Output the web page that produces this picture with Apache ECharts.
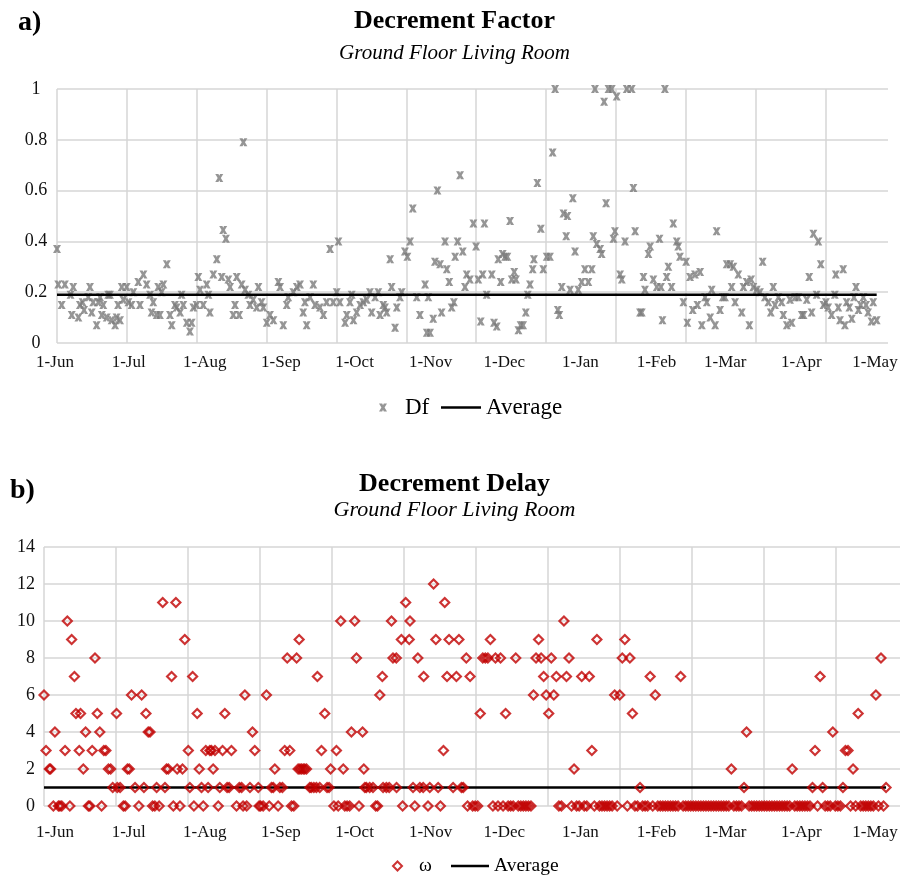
<!DOCTYPE html>
<html>
<head>
<meta charset="utf-8">
<title>Decrement Factor and Decrement Delay</title>
<script src="https://cdn.jsdelivr.net/npm/echarts@6/dist/echarts.min.js"></script>
<style>
  html, body { margin: 0; padding: 0; background: #fff; }
  #chart { width: 909px; height: 876px; }
</style>
</head>
<body>
<div id="chart"></div>
<script>
// Month labels and their day offsets from 1 June
const months = ['1-Jun','1-Jul','1-Aug','1-Sep','1-Oct','1-Nov','1-Dec','1-Jan','1-Feb','1-Mar','1-Apr','1-May'];
const monthStartDays = [0,30,61,92,122,153,183,214,245,273,304,334];

// a) Decrement factor, by day offset from 1 June
const dfDays = [
  0,0.5,1.9,3.2,5.5,6,6.6,8.7,9.3,10.4,11,12.7,13.4,14.1,14.7,16.1,16.8,17.5,18.2,18.8,20.2,20.8,21.5,22.2,23.6,24.2,24.8,25.6,26.3,26.9,28.3,29,
  30.3,31,33,33.7,35.1,36.4,37.8,38.4,39.1,40.5,41.1,41.8,42.5,43.2,44.6,45.9,46.6,47.9,48.6,50,50.6,51.3,52.7,54,54.7,55.4,56.7,57.4,58.1,59.4,60.8,
  61.5,62.1,63.5,64.9,65.9,66.9,67.5,68.6,69.6,70.3,71.6,72.3,73,74,75,75.7,76.4,77.7,78.4,79.7,81.1,81.8,83.1,83.8,85.2,86.5,87.9,89.9,90.6,
  91.9,93.3,93.9,96,97.4,98.7,100,100.7,101.4,102.8,104.1,104.8,106.8,108.2,109.5,110.9,112.2,113.6,114.3,114.9,117,117.7,119,119.7,120.4,121.7,
  123.1,124.4,125.8,127.1,127.8,129.2,130.5,131.2,132.5,133.2,133.9,135.3,135.9,137.3,138,139.3,140,141.3,142.3,143.4,144.5,146.1,147.4,149.5,150.2,150.8,151.5,152.8,
  153.5,154.5,155.6,156.2,157.6,158.3,159.3,160.3,161.2,161.7,162.7,163.7,164.8,165.7,166.4,167.7,169.1,170.2,171.1,172.1,172.9,173.6,174.5,176.6,177.5,178.6,179.2,180.2,181,182,182.9,
  184,184.7,185.7,186.4,187.4,188.3,189.3,190.4,191.2,192.1,193.2,193.7,195.1,196.5,197.5,198.9,200.2,201.3,202.3,203.4,204,205,205.7,206.8,207.3,208.4,209.5,210.4,211.7,213.1,
  214.4,215.8,217.2,217.8,218.5,219.2,220.6,221.2,222.2,223,224,225.3,226,226.6,227.3,228.7,229.4,230.7,231.4,233.4,234.1,234.8,236.8,237.5,238.2,238.8,240.2,240.9,242.2,243.6,244.7,
  245.3,245.9,246.9,247.6,248.3,249.6,250.3,251.7,252.3,253,254.4,255.5,256,257.1,258.2,259.1,260.1,261.2,261.9,263.2,263.9,265.3,265.9,267.3,267.9,269.3,270.4,271.3,272,
  273.4,274,274.7,275.4,276.7,278.1,278.8,280.1,281.2,281.9,282.8,284.2,285.5,286.6,287.5,288.9,289.9,290.9,291.6,293,294.3,295,296.4,297.7,298.4,299.8,301.1,302.5,303.2,
  304.5,305.5,306.5,307.2,308.5,309.2,310.2,311.3,312.3,313.2,314.6,315.9,316.3,317.3,318,319.3,320,320.7,321.8,322.8,323.7,324.5,325.5,326.4,327.5,328.6,329.4,330.8,331.5,332.9
];
const dfValues = [
  .37,.23,.15,.23,.19,.11,.22,.10,.15,.16,.13,.18,.22,.12,.16,.07,.16,.18,.11,.15,.10,.19,.19,.09,.07,.10,.15,.09,.22,.17,.22,.16,
  .15,.20,.24,.15,.27,.23,.19,.12,.16,.11,.22,.11,.20,.23,.31,.11,.07,.15,.14,.12,.19,.15,.08,.045,.08,.14,.15,.26,.21,.15,.23,
  .19,.12,.27,.33,.65,.26,.445,.41,.25,.22,.11,.15,.26,.11,.23,.79,.21,.19,.15,.17,.14,.22,.16,.14,.08,.11,.09,.24,.22,
  .07,.15,.18,.20,.22,.23,.12,.16,.07,.18,.23,.15,.14,.11,.16,.37,.16,.20,.40,.16,.08,.11,.16,.19,.09,.12,
  .15,.16,.17,.20,.12,.18,.20,.11,.15,.14,.12,.33,.22,.06,.14,.18,.20,.36,.34,.40,.53,.18,.11,.23,.04,.18,.04,.095,
  .32,.60,.31,.12,.40,.29,.24,.14,.16,.34,.40,.66,.36,.22,.27,.25,.47,.38,.25,.085,.27,.47,.19,.27,.08,.065,.33,.24,.35,.34,.34,
  .48,.25,.28,.25,.05,.07,.07,.12,.19,.23,.29,.33,.63,.45,.29,.34,.34,.75,1,.13,.11,.22,.51,.42,.50,.21,.57,.36,.21,.24,
  .29,.24,.29,.42,1,.39,.37,.35,.95,.55,1,1,.41,.44,.97,.27,.25,.40,1,1,.61,.44,.12,.12,.26,.21,.35,.38,.25,.22,.41,
  .22,.09,1,.26,.30,.22,.47,.40,.38,.34,.16,.32,.08,.26,.13,.27,.15,.28,.07,.18,.16,.10,.21,.07,.44,.13,.18,.18,.31,
  .31,.22,.30,.16,.27,.12,.22,.24,.07,.25,.22,.21,.20,.32,.18,.16,.12,.22,.15,.18,.16,.11,.07,.17,.08,.18,.18,.11,.11,
  .17,.26,.12,.43,.19,.40,.31,.15,.16,.14,.11,.19,.27,.14,.09,.29,.07,.16,.14,.095,.18,.22,.13,.15,.18,.15,.12,.085,.16,.09
];
const dfAverage = 0.19;

// b) Decrement delay ω (hours), June to mid November, by day offset from 1 June
const wDays = [
  0,0.8,2.1,2.6,3.7,4.3,5.7,6.3,7,8.3,9.2,10.2,10.9,12,12.6,13.9,14.4,15.5,16.4,17.5,18.1,19,20.1,21,22,22.7,23.6,24.4,25.4,26.3,27.1,28.6,28.9,
  30,31.3,32,32.9,33.6,34.5,35.9,37.4,38.5,39.4,40.2,41.1,41.8,42.8,43.7,44.4,45.4,46.8,47.7,48.3,49,50.3,51,52,52.5,53.6,54.6,55.5,56.9,57.5,58.6,59.1,60.4,
  61.2,62.1,62.8,63.8,64.7,65.4,66,66.7,67.4,68.7,69.3,70.4,71.3,72.2,73,73.9,75.9,77,77.9,78.5,79.2,79.9,81.2,82.2,83.1,84.5,84.8,85.4,86.4,87.7,88.8,89.7,90.4,91,
  92.3,93,94,94.9,95.9,96.9,97.6,98.5,99.6,100.2,100.6,100.9,101.5,102.2,102.8,103.5,104.8,105.4,106.4,107.4,107.8,108.7,109.4,110.7,111.6,112.4,113,114.3,115.3,116,117,118,118.6,119.5,120.5,121.2,
  122.5,123.2,124.2,125.6,126.1,126.5,127.1,128.4,129.7,130.8,131.5,132.4,133.4,133.7,135,136.1,137,137.6,138.9,139,140.9,141.4,142.6,144,144.3,145.5,146.2,147.4,148.2,149.5,149.7,151.4,152.1,
  153.6,154.5,155.4,156.3,157.5,158,158.9,159.7,161.3,162.6,163.6,164.6,165.3,166.5
];
const wValues = [
  6,3,2,2,0,4,0,0,0,3,10,0,9,7,5,3,5,2,4,0,0,3,8,5,4,0,3,3,2,2,1,5,1,
  1,0,0,2,2,6,1,0,6,1,5,4,4,0,0,1,0,11,1,2,2,7,0,11,2,0,2,9,3,1,7,0,5,
  2,1,0,3,1,3,3,2,3,0,1,3,5,1,1,3,0,1,1,0,6,0,1,4,3,1,0,0,0,6,0,1,1,2,
  0,1,1,3,8,3,0,0,8,2,9,2,2,2,2,2,1,1,1,1,7,1,3,5,1,1,2,0,3,0,10,2,0,0,0,4,
  10,8,0,4,2,1,1,1,1,0,0,6,7,1,1,1,10,8,8,1,9,0,11,9,10,1,0,8,1,1,7,0,1,
  12,9,1,0,3,11,7,9,1,7,9,1,1,8
];
// Daily readings from 16 November (day 167) to 30 April (day 333)
const wDailyFirstDay = 167;
const wDaily = [
  0,7,0,0,0,5,8,8,8,9,0,8,0,8,0,5,
  0,0,0,8,0,0,0,0,0,0,6,8,9,8,7,6,5,8,6,7,0,0,10,7,8,0,2,0,0,7,0,
  0,7,3,0,9,0,0,0,0,0,0,6,0,6,8,9,0,8,5,0,0,1,0,0,0,7,0,6,0,0,0,
  0,0,0,0,0,0,7,0,0,0,0,0,0,0,0,0,0,0,0,0,0,0,0,0,0,0,2,
  0,0,0,0,1,4,0,0,0,0,0,0,0,0,0,0,0,0,0,0,0,0,0,2,0,0,0,0,0,0,0,
  1,3,0,7,1,0,0,0,4,0,0,0,1,3,3,0,2,0,5,0,0,0,0,0,0,6,0,8,0,1
];
const wAverage = 1;

const SERIF = '"Liberation Serif", "DejaVu Serif", serif';
const GRID_COLOR = '#d6d6d6';
const X_MAX = 337.5;          // right end of both date axes, in days
const X_STEP = 28.37;         // spacing of the vertical gridlines, in days

// bold "x" marker with flat ends
const xMarker = 'path://M0,0 L4,0 L5,2.2 L6,0 L10,0 L7,5 L10,10 L6,10 L5,7.8 L4,10 L0,10 L3,5 Z';

function pairs(xs, ys) { return xs.map((x, i) => [x, ys[i]]); }

const dfData = pairs(dfDays, dfValues);
const wData = pairs(wDays, wValues);
wDaily.forEach((v, i) => wData.push([wDailyFirstDay + i, v]));

const dfSpan = [Math.min(...dfDays), Math.max(...dfDays)];
const wSpan = [Math.min(...wData.map(p => p[0])), Math.max(...wData.map(p => p[0]))];

function dataXAxis(gridIndex) {
  return {
    type: 'value', gridIndex, min: 0, max: X_MAX, interval: X_STEP,
    axisLine: { show: false }, axisTick: { show: false }, axisLabel: { show: false },
    splitLine: { show: true, showMinLine: true, showMaxLine: false, lineStyle: { color: GRID_COLOR, width: 1.5 } }
  };
}
function monthXAxis(gridIndex, margin) {
  return {
    type: 'value', gridIndex, min: 0, max: 334,
    axisLine: { show: false }, axisTick: { show: false }, splitLine: { show: false },
    axisLabel: {
      customValues: monthStartDays, margin,
      formatter: v => months[monthStartDays.indexOf(v)] || '',
      fontFamily: SERIF, fontSize: 17, color: '#111'
    }
  };
}
function valueYAxis(gridIndex, max, interval, margin, align) {
  return {
    type: 'value', gridIndex, min: 0, max, interval,
    axisLine: { show: false }, axisTick: { show: false },
    axisLabel: { margin, align, fontFamily: SERIF, fontSize: 18, color: '#111' },
    splitLine: { show: true, lineStyle: { color: GRID_COLOR, width: 1.5 } }
  };
}

const chart = echarts.init(document.getElementById('chart'), null, { renderer: 'canvas' });
chart.setOption({
  animation: false,
  backgroundColor: '#fff',
  title: [
    { text: 'a)', left: 18, top: 9, padding: 0,
      textStyle: { fontFamily: SERIF, fontWeight: 'bold', fontSize: 28, color: '#000' } },
    { text: 'Decrement Factor', subtext: 'Ground Floor Living Room', left: 'center', top: 8, padding: 0, itemGap: 9,
      textStyle: { fontFamily: SERIF, fontWeight: 'bold', fontSize: 26, color: '#000' },
      subtextStyle: { fontFamily: SERIF, fontStyle: 'italic', fontSize: 21, color: '#000' } },
    { text: 'b)', left: 10, top: 477, padding: 0,
      textStyle: { fontFamily: SERIF, fontWeight: 'bold', fontSize: 28, color: '#000' } },
    { text: 'Decrement Delay', subtext: 'Ground Floor Living Room', left: 'center', top: 471, padding: 0, itemGap: 2,
      textStyle: { fontFamily: SERIF, fontWeight: 'bold', fontSize: 26, color: '#000' },
      subtextStyle: { fontFamily: SERIF, fontStyle: 'italic', fontSize: 22, color: '#000' } }
  ],
  legend: [
    { data: ['Df'], left: 379, top: 396, padding: 0, itemWidth: 8, itemHeight: 8,
      textStyle: { fontFamily: SERIF, fontSize: 23, color: '#000', padding: [0, 0, 0, 13] } },
    { data: [{ name: 'Average', icon: 'rect' }], left: 441, top: 396, padding: 0, itemWidth: 40, itemHeight: 2.5,
      textStyle: { fontFamily: SERIF, fontSize: 23, color: '#000' } },
    { data: ['ω'], left: 392, top: 856, padding: 0, itemWidth: 9, itemHeight: 9,
      textStyle: { fontFamily: SERIF, fontSize: 19.5, color: '#000', padding: [0, 0, 0, 12] } },
    { data: [{ name: 'Average', icon: 'rect' }], left: 451, top: 856, padding: 0, itemWidth: 38, itemHeight: 2.5,
      textStyle: { fontFamily: SERIF, fontSize: 19.5, color: '#000' } }
  ],
  grid: [
    { left: 57, top: 89, width: 831, height: 254 },
    { left: 55, top: 89, width: 820, height: 254 },
    { left: 44, top: 547, width: 856, height: 259 },
    { left: 55, top: 547, width: 820, height: 259 }
  ],
  xAxis: [dataXAxis(0), monthXAxis(1, 11), dataXAxis(2), monthXAxis(3, 18)],
  yAxis: [
    valueYAxis(0, 1, 0.2, 21, 'center'),
    { type: 'value', gridIndex: 1, show: false },
    valueYAxis(2, 14, 2, 9, 'right'),
    { type: 'value', gridIndex: 3, show: false }
  ],
  series: [
    { name: 'Df', type: 'scatter', xAxisIndex: 0, yAxisIndex: 0, data: dfData, clip: false,
      symbol: xMarker, symbolSize: 8, itemStyle: { color: '#7a7a7a' }, z: 2 },
    { name: 'Average', type: 'line', xAxisIndex: 0, yAxisIndex: 0, showSymbol: false, symbol: 'none',
      data: [[dfSpan[0], dfAverage], [dfSpan[1], dfAverage]],
      itemStyle: { color: '#000' }, lineStyle: { color: '#000', width: 2.5 }, z: 3 },
    { name: 'Average', type: 'line', xAxisIndex: 2, yAxisIndex: 2, showSymbol: false, symbol: 'none',
      data: [[wSpan[0], wAverage], [wSpan[1], wAverage]],
      itemStyle: { color: '#000' }, lineStyle: { color: '#000', width: 2.5 }, z: 2 },
    { name: 'ω', type: 'scatter', xAxisIndex: 2, yAxisIndex: 2, data: wData, clip: false,
      symbol: 'diamond', symbolSize: [9, 9],
      itemStyle: { color: 'rgba(255,255,255,0)', borderColor: '#c00000', borderWidth: 2.2 }, z: 3 }
  ]
});
</script>
</body>
</html>
